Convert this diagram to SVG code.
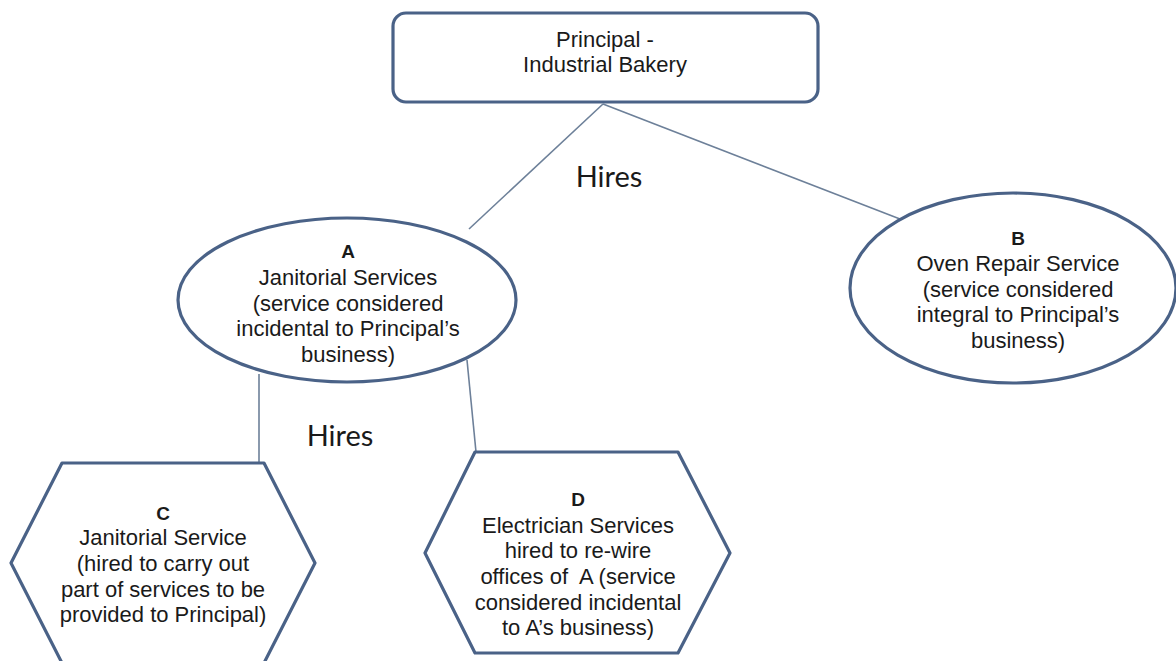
<svg xmlns="http://www.w3.org/2000/svg" width="1176" height="661" viewBox="0 0 1176 661">
  <style>
    .node { fill: #ffffff; stroke: #4a6287; stroke-width: 3.2; stroke-linejoin: round; }
    .conn { stroke: #6d8099; stroke-width: 1.6; fill: none; }
    .lbl { font-family: "Liberation Sans", Arial, sans-serif; font-size: 22px; fill: #1a1a1a; text-anchor: middle; }
    .key { font-weight: bold; font-size: 19px; }
    .hires { font-family: Lato, "Liberation Sans", sans-serif; font-size: 29px; fill: #1a1a1a; text-anchor: middle; }
  </style>
  <rect width="1176" height="661" fill="#ffffff"/>

  <!-- connectors -->
  <g id="connectors">
    <line class="conn" x1="603" y1="104" x2="469" y2="229"/>
    <line class="conn" x1="603" y1="104" x2="900" y2="219"/>
    <line class="conn" x1="259" y1="374" x2="259" y2="463"/>
    <line class="conn" x1="467" y1="360" x2="476" y2="452"/>
    <text class="hires" x="609" y="187">Hires</text>
    <text class="hires" x="340" y="446">Hires</text>
  </g>

  <!-- principal -->
  <g id="principal">
    <rect class="node" x="393" y="13" width="425" height="89" rx="13" ry="13"/>
    <text class="lbl" x="605" y="47">Principal -</text>
    <text class="lbl" x="605" y="72">Industrial Bakery</text>
  </g>

  <!-- A -->
  <g id="node-a">
    <ellipse class="node" cx="347" cy="300" rx="169" ry="82"/>
    <text class="lbl key" x="348" y="258">A</text>
    <text class="lbl" x="348" y="285">Janitorial Services</text>
    <text class="lbl" x="348" y="311">(service considered</text>
    <text class="lbl" x="348" y="336">incidental to Principal’s</text>
    <text class="lbl" x="348" y="362">business)</text>
  </g>

  <!-- B -->
  <g id="node-b">
    <ellipse class="node" cx="1013" cy="288" rx="163" ry="95"/>
    <text class="lbl key" x="1018" y="245">B</text>
    <text class="lbl" x="1018" y="271">Oven Repair Service</text>
    <text class="lbl" x="1018" y="297">(service considered</text>
    <text class="lbl" x="1018" y="322">integral to Principal’s</text>
    <text class="lbl" x="1018" y="348">business)</text>
  </g>

  <!-- C -->
  <g id="node-c">
    <polygon class="node" points="62,463 264,463 315,563 264,663 62,663 11,563"/>
    <text class="lbl key" x="163" y="520">C</text>
    <text class="lbl" x="163" y="545">Janitorial Service</text>
    <text class="lbl" x="163" y="571">(hired to carry out</text>
    <text class="lbl" x="163" y="597">part of services to be</text>
    <text class="lbl" x="163" y="622">provided to Principal)</text>
  </g>

  <!-- D -->
  <g id="node-d">
    <polygon class="node" points="475,452 678,452 730,553 678,653 475,653 425,553"/>
    <text class="lbl key" x="578" y="506">D</text>
    <text class="lbl" x="578" y="533">Electrician Services</text>
    <text class="lbl" x="578" y="558">hired to re-wire</text>
    <text class="lbl" x="578" y="584" xml:space="preserve">offices of  A (service</text>
    <text class="lbl" x="578" y="610">considered incidental</text>
    <text class="lbl" x="578" y="635">to A’s business)</text>
  </g>
</svg>
